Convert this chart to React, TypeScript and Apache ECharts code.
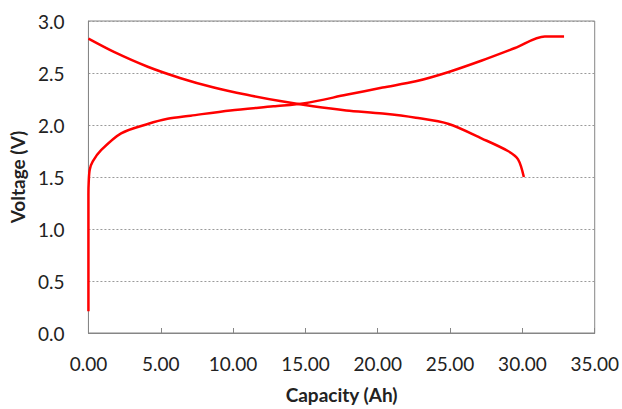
import React, { useEffect, useRef } from "react";
import * as echarts from "echarts";

const chargeCapacity = [0, 0, 0.02, 0.09, 0.3, 0.89, 2.26, 4.1, 5.47, 7.07, 9.81, 12.79, 14.96, 17.82, 20.34, 22.63, 24.91, 27.2, 29.49, 31.55, 32.88];
const chargeVoltage = [0.21, 1.33, 1.45, 1.57, 1.65, 1.76, 1.92, 2.01, 2.06, 2.09, 2.14, 2.18, 2.21, 2.29, 2.36, 2.42, 2.51, 2.62, 2.74, 2.85, 2.85];

const dischargeCapacity = [0, 1.8, 4.1, 6.38, 8.67, 10.96, 13.25, 15.53, 17.82, 20.34, 22.63, 24.91, 27.2, 29.0, 29.7, 30.1];
const dischargeVoltage = [2.83, 2.70, 2.56, 2.45, 2.36, 2.29, 2.23, 2.18, 2.14, 2.11, 2.07, 2.01, 1.87, 1.75, 1.67, 1.50];

const xTitle = "Capacity (Ah)";
const yTitle = "Voltage (V)";

const FONT = "Lato";

export default function App() {
  const ref = useRef<HTMLDivElement>(null);
  useEffect(() => {
    if (!ref.current) return;
    const chart = echarts.init(ref.current, undefined, { renderer: "svg" });
    const charge = chargeCapacity.map((c, i) => [c, chargeVoltage[i]]);
    const discharge = dischargeCapacity.map((c, i) => [c, dischargeVoltage[i]]);
    chart.setOption({
      animation: false,
      backgroundColor: "#ffffff",
      grid: {
        left: 87,
        top: 21,
        right: 25,
        bottom: 66,
        show: true,
        borderColor: "#868686",
        borderWidth: 1,
      },
      xAxis: {
        type: "value",
        min: 0,
        max: 35,
        interval: 5,
        name: xTitle,
        nameLocation: "middle",
        nameGap: 52,
        nameTextStyle: { fontFamily: FONT, fontSize: 19, fontWeight: "bold", color: "#222" },
        axisLine: { show: true, lineStyle: { color: "#868686", width: 1 } },
        axisTick: { show: true, inside: true, length: 5, lineStyle: { color: "#868686" } },
        axisLabel: {
          margin: 21,
          fontFamily: FONT,
          fontSize: 19,
          color: "#222",
          formatter: (v: number) => v.toFixed(2),
        },
        splitLine: { show: false },
      },
      yAxis: {
        type: "value",
        min: 0,
        max: 3,
        interval: 0.5,
        name: yTitle,
        nameLocation: "middle",
        nameGap: 58,
        nameTextStyle: { fontFamily: FONT, fontSize: 19, fontWeight: "bold", color: "#222" },
        axisLine: { show: true, lineStyle: { color: "#868686", width: 1 } },
        axisTick: { show: false },
        axisLabel: {
          margin: 24,
          fontFamily: FONT,
          fontSize: 19,
          color: "#222",
          formatter: (v: number) => v.toFixed(1),
        },
        splitLine: { show: true, lineStyle: { color: "#9a9a9a", type: [2, 2], width: 1 } },
      },
      series: [
        {
          type: "line",
          data: charge,
          smooth: 0.3,
          showSymbol: false,
          lineStyle: { color: "#ff0000", width: 2.5 },
        },
        {
          type: "line",
          data: discharge,
          smooth: 0.3,
          showSymbol: false,
          lineStyle: { color: "#ff0000", width: 2.5 },
        },
      ],
    });
    return () => chart.dispose();
  }, []);
  return (
    <div
      ref={ref}
      style={{ position: "fixed", left: 0, top: 0, width: 622, height: 409 }}
    />
  );
}
